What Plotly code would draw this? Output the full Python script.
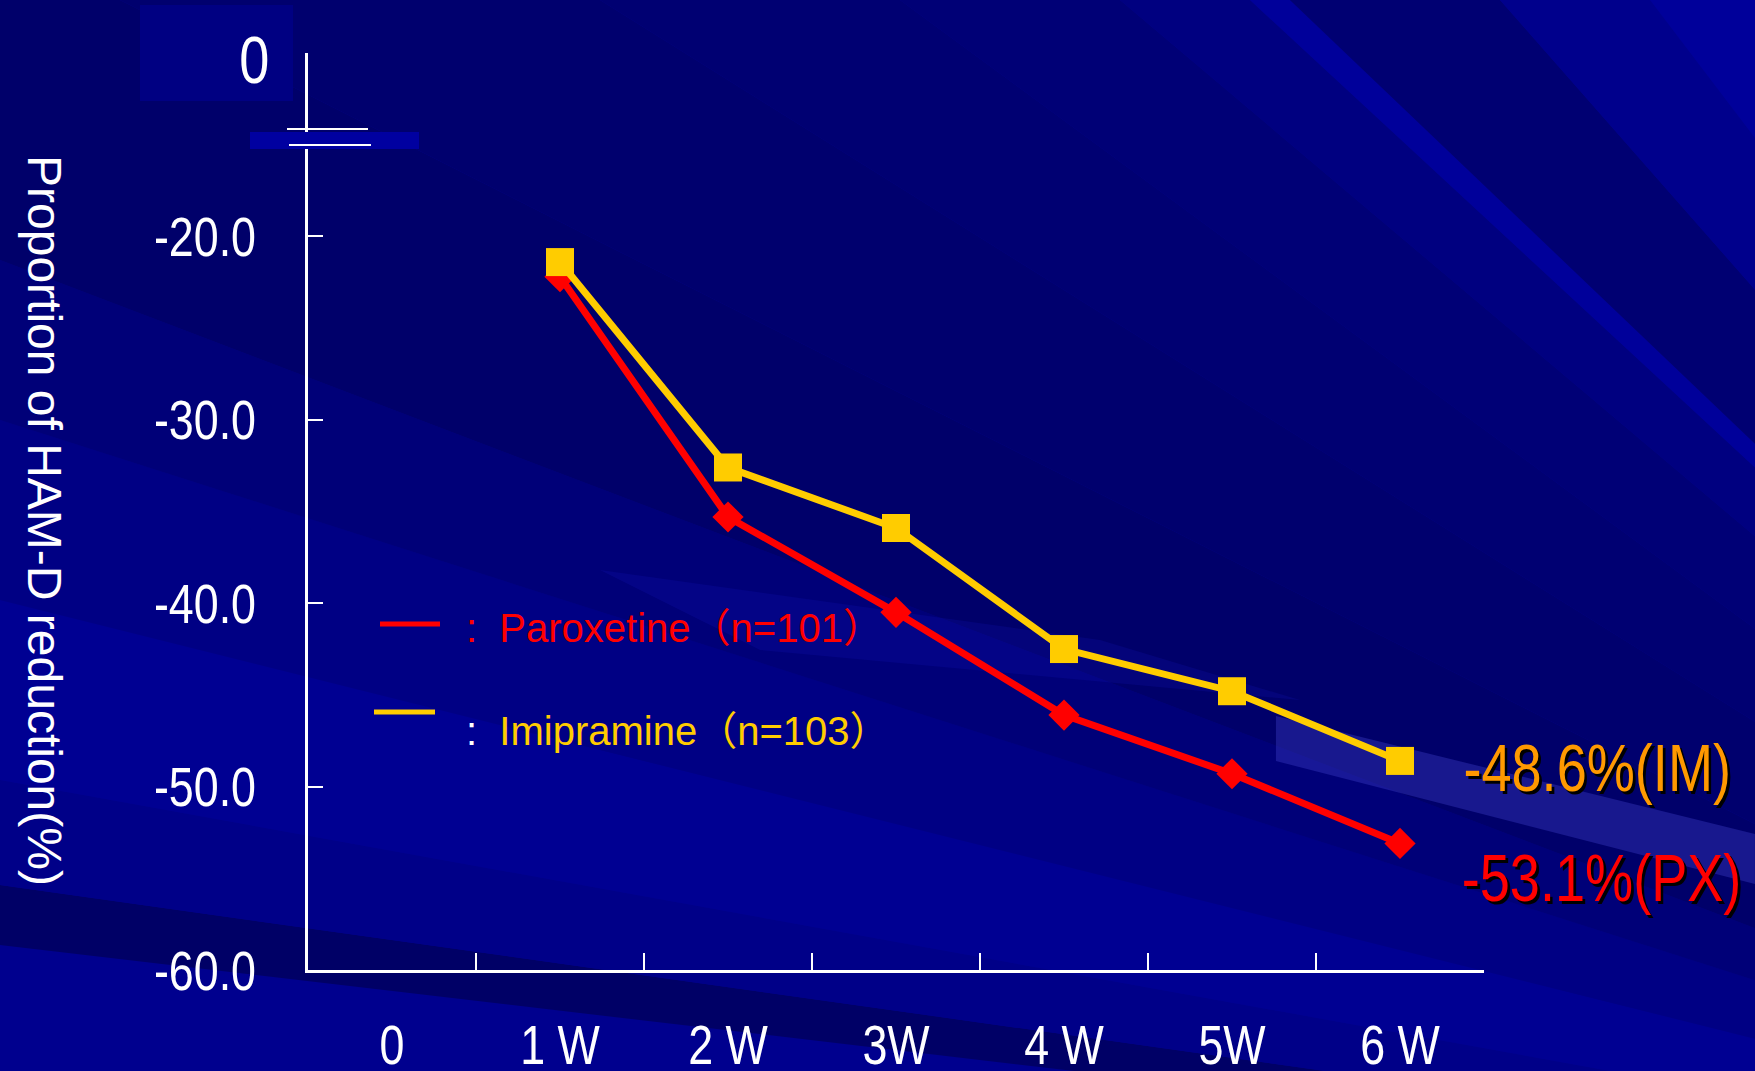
import plotly.graph_objects as go

# ---- data ----
weeks = ["0", "1 W", "2 W", "3W", "4 W", "5W", "6 W"]
measured_weeks = ["1 W", "2 W", "3W", "4 W", "5W", "6 W"]
paroxetine = [-22.2, -35.3, -40.5, -46.1, -49.3, -53.1]
imipramine = [-21.4, -32.6, -35.9, -42.5, -44.8, -48.6]
y_tick_vals = [-20, -30, -40, -50, -60]
y_tick_text = ["-20.0", "-30.0", "-40.0", "-50.0", "-60.0"]
y_break_pos = -10   # where the "0" tick sits on the broken axis
y_range = [-60, -10]

W, H = 1755, 1071
L, R, T, B = 308, 1484, 53, 970

SANS = "Liberation Sans, Arial, Noto Sans CJK JP, sans-serif"
RED = "#FF0000"
YELLOW = "#FFCC00"
ORANGE = "#FF9900"


def px(x):
    return (x - L) / (R - L)


def py(y):
    return (B - y) / (B - T)


def poly(points, color):
    d = "M " + " L ".join(f"{px(x):.4f},{py(y):.4f}" for x, y in points) + " Z"
    return dict(type="path", xref="paper", yref="paper", path=d,
                fillcolor=color, line=dict(width=0), layer="below")


def rect(x0, y0, x1, y1, color, layer="below"):
    return dict(type="rect", xref="paper", yref="paper",
                x0=px(x0), x1=px(x1), y0=py(y1), y1=py(y0),
                fillcolor=color, line=dict(width=0), layer=layer)


def hline(x0, x1, y, color, width, layer="above"):
    return dict(type="line", xref="paper", yref="paper",
                x0=px(x0), x1=px(x1), y0=py(y), y1=py(y),
                line=dict(color=color, width=width), layer=layer)


# background rays fanning out from a point beyond the lower-right corner
FAN = (2600, 1250)


def edge(p):
    # p < 0: point on the left edge at y = -p ; p >= 0: point on the top edge at x = p
    return (0, -p) if p < 0 else (p, 0)


def ray_band(p1, p2, color):
    pts = [FAN, edge(p1)]
    if p1 < 0 <= p2:
        pts.append((0, 0))
    pts.append(edge(p2))
    return poly(pts, color)


fig = go.Figure()

fig.add_trace(go.Scatter(
    x=measured_weeks, y=paroxetine, mode="lines+markers", name="Paroxetine",
    line=dict(color=RED, width=7),
    marker=dict(symbol="diamond", size=24, color=RED, line=dict(width=0)),
))
fig.add_trace(go.Scatter(
    x=measured_weeks, y=imipramine, mode="lines+markers", name="Imipramine",
    line=dict(color=YELLOW, width=7),
    marker=dict(symbol="square", size=28, color=YELLOW, line=dict(width=0)),
))

bands = [
    (-1400, -945, "#00008E"),
    (-945, -885, "#000066"),
    (-885, -780, "#000088"),
    (-780, -600, "#000092"),
    (-600, -420, "#000084"),
    (-420, -260, "#000078"),
    (-260, 120, "#00006A"),
    (120, 600, "#00006E"),
    (600, 900, "#000072"),
    (900, 1120, "#000076"),
    (1120, 1250, "#000080"),
    (1250, 1290, "#00009A"),
    (1290, 1500, "#000072"),
    (1500, 1650, "#00008C"),
    (1650, 2400, "#00009A"),
]

shapes = [ray_band(a, b, c) for a, b, c in bands]
shapes += [
    # soft highlight streaks
    poly([(1276, 716), (1755, 834), (1755, 884), (1276, 761)], "rgba(70,70,210,0.35)"),
    poly([(600, 570), (1100, 640), (1300, 700), (760, 650)], "rgba(20,20,200,0.18)"),
    # box behind the "0" tick
    rect(140, 5, 293, 101, "#000082"),
    # axis break marker
    rect(250, 132, 419, 149, "#0000A0", layer="above"),
    hline(287, 368, 129, "white", 2),
    hline(289, 371, 145, "white", 2),
    # legend keys
    hline(380, 440, 624, RED, 5),
    hline(374, 435, 712, YELLOW, 5),
]

annotations = [
    dict(x=px(254), y=py(60), xref="paper", yref="paper", text="0",
         showarrow=False, xanchor="center", yanchor="middle",
         font=dict(family=SANS, size=66, color="white")),
    dict(x=px(45), y=py(520), xref="paper", yref="paper",
         text="Proportion of HAM-D reduction(%)", textangle=90,
         showarrow=False, xanchor="center", yanchor="middle",
         font=dict(family=SANS, size=48, color="white")),
    dict(x=px(464), y=py(628), xref="paper", yref="paper",
         text=":  Paroxetine（n=101）", showarrow=False,
         xanchor="left", yanchor="middle",
         font=dict(family=SANS, size=40, color=RED)),
    dict(x=px(464), y=py(731), xref="paper", yref="paper",
         text="<span style='color:white'>:</span>  Imipramine（n=103）",
         showarrow=False, xanchor="left", yanchor="middle",
         font=dict(family=SANS, size=40, color=YELLOW)),
    dict(x=px(1597), y=py(768), xref="paper", yref="paper",
         text=f"{imipramine[-1]:.1f}%(IM)", showarrow=False,
         xanchor="center", yanchor="middle",
         font=dict(family=SANS, size=66, color=ORANGE,
                   shadow="3px 3px 0px #000000")),
    dict(x=px(1601), y=py(878), xref="paper", yref="paper",
         text=f"{paroxetine[-1]:.1f}%(PX)", showarrow=False,
         xanchor="center", yanchor="middle",
         font=dict(family=SANS, size=66, color=RED,
                   shadow="3px 3px 0px #000000")),
]

fig.update_layout(
    width=W, height=H,
    margin=dict(l=L, r=W - R, t=T, b=H - B),
    paper_bgcolor="#00008E",
    plot_bgcolor="rgba(0,0,0,0)",
    showlegend=False,
    shapes=shapes,
    annotations=annotations,
    xaxis=dict(
        type="category", categoryorder="array", categoryarray=weeks,
        range=[-0.5, len(weeks) - 0.5], automargin=False,
        tickmode="array", tickvals=weeks, ticktext=weeks,
        tickson="boundaries", ticks="inside", ticklen=17, tickwidth=2,
        tickcolor="white", showline=True, linecolor="white", linewidth=3,
        showgrid=False, zeroline=False, ticklabelstandoff=24,
        tickfont=dict(family=SANS, size=56, color="white"),
    ),
    yaxis=dict(
        range=y_range, automargin=False,
        tickmode="array",
        tickvals=[y_break_pos] + y_tick_vals,
        ticktext=[""] + y_tick_text,
        ticks="inside", ticklen=15, tickwidth=2, tickcolor="white",
        showline=True, linecolor="white", linewidth=2.5,
        showgrid=False, zeroline=False, ticklabelstandoff=38,
        tickfont=dict(family=SANS, size=56, color="white"),
    ),
)

# The axis numerals and value callouts use a narrow face: squeeze them
# horizontally around their own anchor point.
narrow_js = """
var gd = document.getElementById('{plot_id}');
function squeezeEl(t, f) {
  var x = parseFloat(t.getAttribute('x')) || 0;
  var y = parseFloat(t.getAttribute('y')) || 0;
  var tr = t.getAttribute('transform') || '';
  t.setAttribute('transform', tr + ' translate(' + x + ',' + y + ') scale(' + f +
    ',1) translate(' + (-x) + ',' + (-y) + ')');
}
gd.querySelectorAll('.xtick text, .ytick text').forEach(function (t) { squeezeEl(t, 0.8); });
var ann = gd.querySelectorAll('.annotation-text');
[0, 4, 5].forEach(function (i) { if (ann[i]) squeezeEl(ann[i], 0.82); });
"""

fig.write_html("out.html", post_script=narrow_js)
